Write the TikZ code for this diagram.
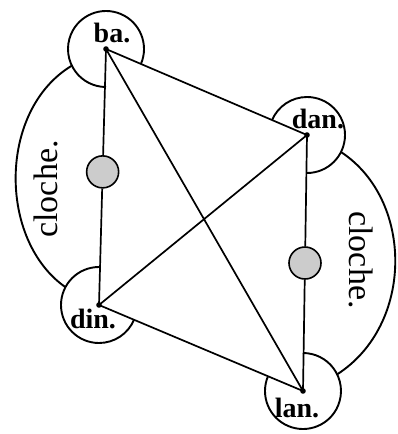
\documentclass[tikz,border=0pt]{standalone}
\usepackage{fontspec}
\setmainfont{Liberation Serif}
\usetikzlibrary{calc}
\tikzset{
  rim/.style={line width=1.9pt, black},
  edge/.style={line width=1.7pt, black},
  bell/.style={circle, draw, line width=1.6pt, fill=gray!40,
    minimum size=32pt, inner sep=0pt},
  syl/.style={font=\fontsize{28}{28}\selectfont\bfseries, anchor=base, inner sep=0pt},
  clochetext/.style={font=\fontsize{34}{34}\selectfont, inner sep=0pt}
}

\begin{document}
\begin{tikzpicture}[x=1pt, y=-1pt]
  \useasboundingbox (0,0) rectangle (398,434);
  % the four strokes
  \coordinate (ba) at (106,49);
  \coordinate (dan) at (307,135);
  \coordinate (din) at (99,305);
  \coordinate (lan) at (303,391);

  % circles round the strokes
  \draw[rim] ($(ba)+(-23.2:38pt)$) arc[start angle=-23.2, end angle=270, radius=38pt];
  \draw[rim] ($(dan)+(-90:38pt)$) arc[start angle=-90, end angle=156.8, radius=38pt];
  \draw[rim] ($(din)+(90:38pt)$) arc[start angle=90, end angle=337.1, radius=38pt];
  \draw[rim] ($(lan)+(157.1:38pt)$) arc[start angle=157.1, end angle=450, radius=38pt];

  % the two bells
  \coordinate (baL) at ($(ba)+(206:38pt)$);
  \coordinate (dinL) at ($(din)+(152:38pt)$);
  \coordinate (danR) at ($(dan)+(-26.6:38pt)$);
  \coordinate (lanR) at ($(lan)+(26:38pt)$);
  \draw[rim] (baL) .. controls (-2,110) and (-2,240) .. (dinL);
  \draw[rim] (danR) .. controls (414,200) and (414,325) .. (lanR);
  \node[bell] (bellL) at ($(ba)!0.48!(din)$) {};
  \node[bell] (bellR) at ($(dan)!0.5!(lan)$) {};

  % strokes between the syllables
  \draw[edge] (ba) -- (dan) -- (din) -- (lan) -- (ba);
  \draw[edge] (ba) -- (bellL) -- (din);
  \draw[edge] (dan) -- (bellR) -- (lan);
  \foreach \v in {ba,dan,din,lan}
    \fill (\v) circle[radius=2.8pt];

  % labels
  \node[syl] (baT) at (112,42) {ba.};
  \node[syl] (danT) at (318,128) {dan.};
  \node[syl] (dinT) at (93,328) {din.};
  \node[syl] (lanT) at (297,417) {lan.};
  \node[clochetext, rotate=90] (clocheL) at (46,189) {cloche.};
  \node[clochetext, rotate=-90] (clocheR) at (361,260) {cloche.};
\end{tikzpicture}
\end{document}
